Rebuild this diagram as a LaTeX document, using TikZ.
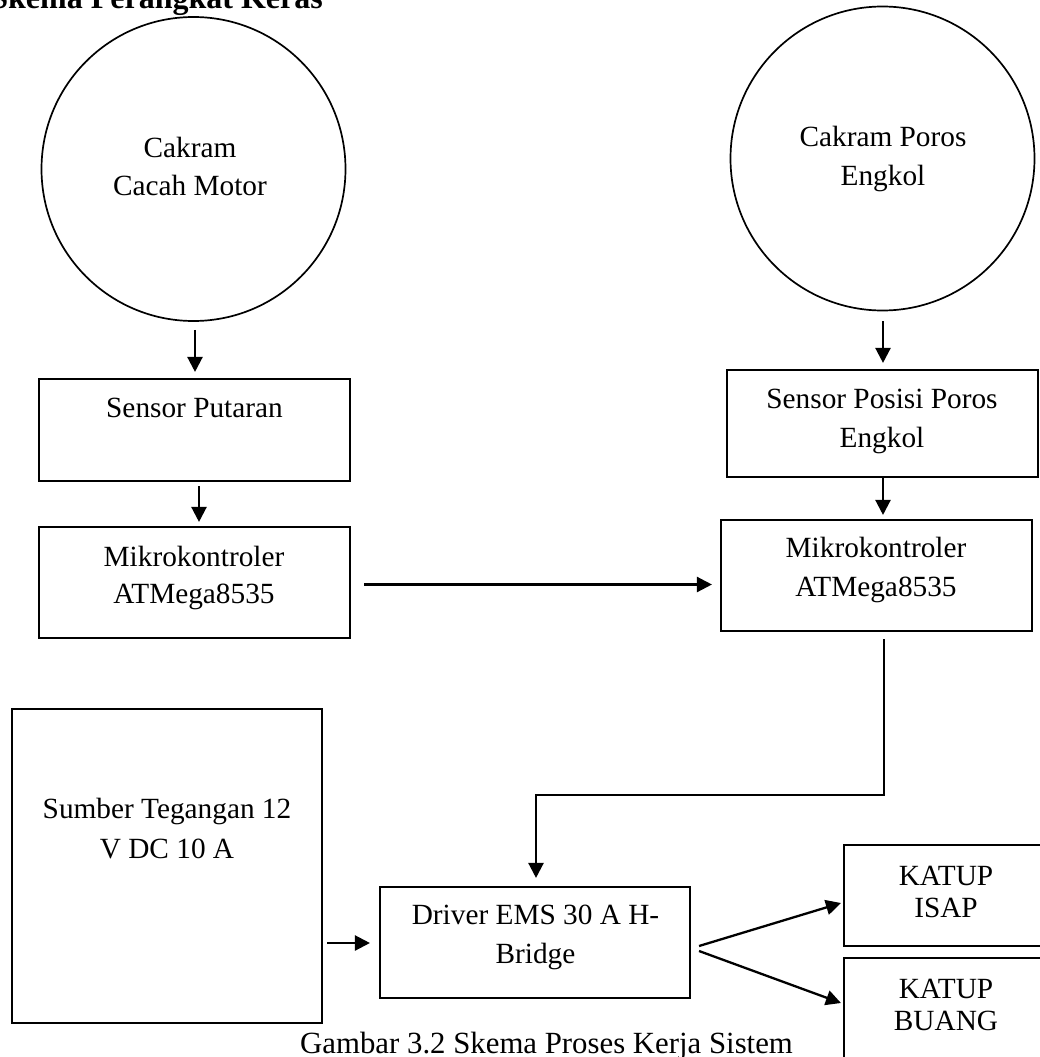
\documentclass[tikz,border=0pt]{standalone}
\usepackage{fontspec}
\setmainfont{Liberation Serif}
\usetikzlibrary{arrows.meta,calc}
\begin{document}
\begin{tikzpicture}[x=1pt,y=-1pt,
  box/.style={draw, line width=2.1pt, rectangle, inner sep=0pt},
  disc/.style={draw, line width=1.7pt, circle, inner sep=0pt, minimum size=304pt},
  lbl/.style={anchor=base, inner sep=0pt, font=\fontsize{29.3}{36}\selectfont},
  arr/.style={line width=2.3pt, -{Triangle[length=15pt,width=15pt]}},
]
\fill[white] (0,0) rectangle (1039,1057);
\useasboundingbox (0,0) rectangle (1039,1057);

% shapes
\node[disc] (c1) at (193.5,169) {};
\node[disc] (c2) at (882.5,158.5) {};
\node[box, minimum width=311pt, minimum height=102pt] (s1) at (194.5,430) {};
\node[box, minimum width=311pt, minimum height=111pt] (m1) at (194.5,582.5) {};
\node[box, minimum width=311pt, minimum height=107pt] (s2) at (882.5,423.5) {};
\node[box, minimum width=311pt, minimum height=111pt] (m2) at (876.5,575.5) {};
\node[box, minimum width=310pt, minimum height=314pt] (pwr) at (167,866) {};
\node[box, minimum width=310pt, minimum height=111pt] (drv) at (535,942.5) {};
\node[box, minimum width=204pt, minimum height=101pt] (isap) at (946,895.5) {};
\node[box, minimum width=204pt, minimum height=102pt] (buang) at (946,1009) {};

% texts
\node[lbl] (t1) at (190,157) {Cakram};
\node[lbl] (t2) at (190,195) {Cacah Motor};
\node[lbl] (t3) at (883,146) {Cakram Poros};
\node[lbl] (t4) at (883,185) {Engkol};
\node[lbl] (t5) at (194.5,417) {Sensor Putaran};
\node[lbl] (t6) at (194,566) {Mikrokontroler};
\node[lbl] (t7) at (194,603) {ATMega8535};
\node[lbl] (t8) at (882,408) {Sensor Posisi Poros};
\node[lbl] (t9) at (882,447) {Engkol};
\node[lbl] (t10) at (876,557) {Mikrokontroler};
\node[lbl] (t11) at (876,596) {ATMega8535};
\node[lbl] (t12) at (167,818) {Sumber Tegangan 12};
\node[lbl] (t13) at (167,858) {V DC 10 A};
\node[lbl] (t14) at (535.5,924) {Driver EMS 30 A H-};
\node[lbl] (t15) at (535.5,963) {Bridge};
\node[lbl] (t16) at (946,885) {KATUP};
\node[lbl] (t17) at (946,917) {ISAP};
\node[lbl] (t18) at (946,998) {KATUP};
\node[lbl] (t19) at (946,1030) {BUANG};
\node[anchor=base east, inner sep=0pt, font=\bfseries\fontsize{32}{38}\selectfont] (title) at (323,8.5) {Skema Perangkat Keras};
\node[anchor=base west, inner sep=0pt, font=\fontsize{30.8}{36}\selectfont] (cap) at (300,1053) {Gambar 3.2 Skema Proses Kerja Sistem};

% connectors
\draw[arr] ($(c1.south)+(1.5,8)$) -- ($(s1.north)+(0.5,-6)$);
\draw[arr] ($(s1.south)+(4.5,4)$) -- ($(m1.north)+(4.5,-4)$);
\draw[arr] ($(m1.east)+(13,2)$) -- ($(m1.east -| m2.west)+(-8,2)$);
\draw[arr] ($(c2.south)+(0.5,10)$) -- ($(s2.north)+(0.5,-6)$);
\draw[arr] ($(s2.south)+(0.5,0)$) -- ($(s2.south |- m2.north)+(0.5,-4)$);
\draw[arr] ($(m2.south)+(7.5,7)$) -- ++(0,156) -| ($(drv.north)+(1,-8)$);
\draw[arr] ($(pwr.east |- drv.west)+(4,0.5)$) -- ($(drv.west)+(-9,0.5)$);
\draw[arr] ($(drv.east)+(8,3.5)$) -- ($(isap.west)+(-2,7.5)$);
\draw[arr] ($(drv.east)+(8,8.5)$) -- ($(buang.west)+(-2,-6)$);
\end{tikzpicture}
\end{document}
